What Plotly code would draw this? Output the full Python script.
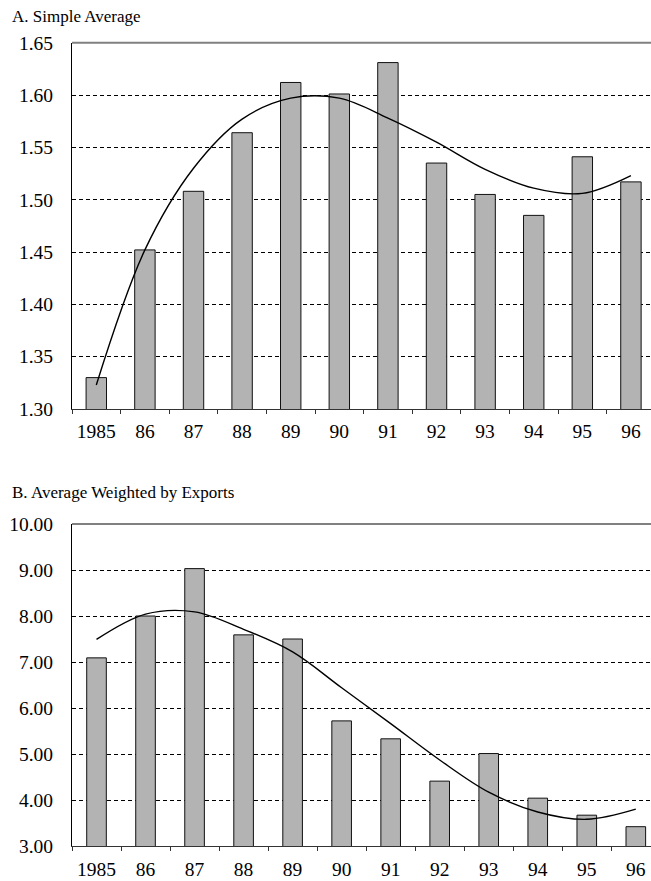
import plotly.graph_objects as go

years = ["1985", "86", "87", "88", "89", "90", "91", "92", "93", "94", "95", "96"]

simple_avg = [1.330, 1.452, 1.508, 1.564, 1.612, 1.601, 1.631, 1.535, 1.505, 1.485, 1.541, 1.517]
simple_trend = [1.323, 1.452, 1.530, 1.577, 1.597, 1.597, 1.578, 1.555, 1.529, 1.511, 1.506, 1.523]

weighted_avg = [7.09, 8.00, 9.03, 7.59, 7.50, 5.72, 5.33, 4.41, 5.01, 4.04, 3.67, 3.42]
weighted_trend = [7.49, 8.04, 8.09, 7.71, 7.22, 6.44, 5.66, 4.87, 4.17, 3.74, 3.58, 3.80]

title_a = "A. Simple Average"
title_b = "B. Average Weighted by Exports"

FONT = "Liberation Serif"
BAR_FILL = "#b3b3b3"

fig = go.Figure()

fig.add_trace(go.Bar(x=years, y=simple_avg, xaxis="x", yaxis="y", width=0.42,
                     marker=dict(color=BAR_FILL, line=dict(color="#111111", width=1)),
                     hoverinfo="skip"))
fig.add_trace(go.Scatter(x=years, y=simple_trend, xaxis="x", yaxis="y", mode="lines",
                         line=dict(color="black", width=1.4, shape="spline", smoothing=1.0),
                         hoverinfo="skip"))
fig.add_trace(go.Bar(x=years, y=weighted_avg, xaxis="x2", yaxis="y2", width=0.40,
                     marker=dict(color=BAR_FILL, line=dict(color="#111111", width=1)),
                     hoverinfo="skip"))
fig.add_trace(go.Scatter(x=years, y=weighted_trend, xaxis="x2", yaxis="y2", mode="lines",
                         line=dict(color="black", width=1.4, shape="spline", smoothing=1.0),
                         hoverinfo="skip"))

H = 881.0
top_dom = [(H - 409) / H, (H - 42.7) / H]
bot_dom = [(H - 846) / H, (H - 524) / H]

xcommon = dict(type="category", showline=True, linecolor="#333333", linewidth=1,
               ticks="outside", ticklen=4, tickcolor="#333333", tickwidth=1,
               tickson="boundaries", showgrid=False, zeroline=False,
               tickfont=dict(family=FONT, size=19.5, color="black"),
               fixedrange=True)
ycommon = dict(showline=True, linecolor="black", linewidth=1, ticks="",
               showgrid=True, gridcolor="black", gridwidth=1, griddash="4px,3px",
               zeroline=False, tickformat=".2f",
               tickfont=dict(family=FONT, size=19.5, color="black"),
               ticklabelstandoff=14, fixedrange=True)

fig.update_layout(
    template="none",
    width=651, height=881,
    margin=dict(l=72, r=0, t=0, b=0),
    paper_bgcolor="white", plot_bgcolor="white",
    font=dict(family=FONT, color="black"),
    showlegend=False,
    xaxis=dict(xcommon, domain=[0, 1], anchor="y", range=[-0.5, 11.413], ticklabelstandoff=5),
    yaxis=dict(ycommon, domain=top_dom, anchor="x", range=[1.30, 1.65], dtick=0.05, tick0=1.30),
    xaxis2=dict(xcommon, domain=[0, 1], anchor="y2", range=[-0.5, 11.31], ticklabelstandoff=6),
    yaxis2=dict(ycommon, domain=bot_dom, anchor="x2", range=[3.0, 10.0], dtick=1.0, tick0=3.0),
    shapes=[
        dict(type="line", xref="x domain", yref="y domain", x0=0, x1=1, y0=1, y1=1,
             line=dict(color="#808080", width=2)),
        dict(type="line", xref="x2 domain", yref="y2 domain", x0=0, x1=1, y0=1, y1=1,
             line=dict(color="#808080", width=2)),
    ],
    annotations=[
        dict(text=title_a, xref="paper", yref="paper", x=(10 - 72) / 579.0, y=1 - 16 / H,
             xanchor="left", yanchor="middle", showarrow=False,
             font=dict(family=FONT, size=17, color="black")),
        dict(text=title_b, xref="paper", yref="paper", x=(10 - 72) / 579.0, y=1 - 492 / H,
             xanchor="left", yanchor="middle", showarrow=False,
             font=dict(family=FONT, size=17, color="black")),
    ],
)

fig.write_html("out.html", config={"displayModeBar": False},
               post_script="document.body.style.margin='0';document.body.style.overflow='hidden';")
